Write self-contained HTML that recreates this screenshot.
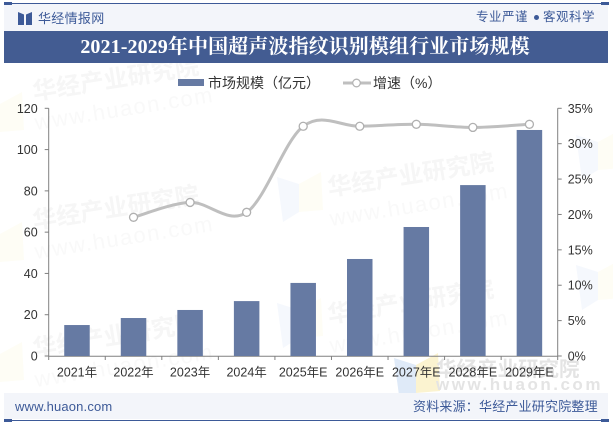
<!DOCTYPE html>
<html lang="zh">
<head>
<meta charset="utf-8">
<title>2021-2029年中国超声波指纹识别模组行业市场规模</title>
<style>
html,body{margin:0;padding:0;background:#fff;}
#page{position:relative;width:613px;height:424px;overflow:hidden;background:#fff;font-family:"Liberation Sans","Noto Sans CJK SC",sans-serif;}
#page>div{position:absolute;white-space:nowrap;}
#chart{position:absolute;left:0;top:0;}
</style>
</head>
<body>
<div id="page">
<svg id="chart" width="613" height="424" viewBox="0 0 613 424">
  <g id="watermarks"></g>
  <g id="axes"></g>
  <g id="bars"></g>
  <g id="line"></g>
  <g id="labels"></g>
</svg>

<div style="left:4px;top:4px;width:604px;height:27px;background:#f3f5fa;"></div>
<div style="left:4px;top:3px;width:604px;height:1px;background:#3d5a98;"></div>
<div style="left:4px;top:2px;width:8px;height:3px;background:#3d5a98;"></div>
<div style="left:601px;top:2px;width:8px;height:3px;background:#3d5a98;"></div>
<svg style="position:absolute;left:18px;top:12px;" width="14" height="14" viewBox="0 0 14 14"><polygon points="0,0 6,2.5 6,13 0,13" fill="#3d5a98"/><polygon points="14,0 8,2.5 8,13 14,13" fill="#3d5a98"/></svg>
<div style="left:38px;top:9px;font-size:13px;line-height:19px;letter-spacing:0.3px;color:#3d5a98;">华经情报网</div>
<div style="left:476px;top:8px;font-size:12.5px;line-height:19px;letter-spacing:0.5px;color:#3d5a98;">专业严谨</div>
<div style="left:534px;top:15px;width:5px;height:5px;border-radius:50%;background:#3d5a98;"></div>
<div style="left:543px;top:8px;font-size:12.5px;line-height:19px;letter-spacing:0.5px;color:#3d5a98;">客观科学</div>

<div style="left:4px;top:31px;width:604px;height:32px;background:#435c92;"></div>
<div style="left:4px;top:31px;width:604px;height:32px;line-height:32px;text-align:center;font-family:'Liberation Serif','Noto Serif CJK SC',serif;font-weight:bold;font-size:20px;letter-spacing:0.1px;color:#fff;text-indent:-2px;">2021-2029年中国超声波指纹识别模组行业市场规模</div>

<div style="left:178px;top:79px;width:26px;height:7px;background:#667aa3;"></div>
<div style="left:208px;top:73px;font-size:14px;line-height:20px;color:#333;">市场规模（亿元）</div>
<svg style="position:absolute;left:343px;top:76px;" width="28" height="14" viewBox="0 0 28 14"><line x1="0" y1="7" x2="28" y2="7" stroke="#bfbfbf" stroke-width="3"/><circle cx="13.5" cy="7" r="3.8" fill="#fff" stroke="#b5b5b5" stroke-width="1.3"/></svg>
<div style="left:373px;top:73px;font-size:14px;line-height:20px;color:#333;">增速（%）</div>

<div style="left:4px;top:393px;width:604px;height:26px;background:#f3f5fa;"></div>
<div style="left:4px;top:419.5px;width:604px;height:1px;background:#3d5a98;"></div>
<div style="left:4px;top:419px;width:8px;height:3px;background:#3d5a98;"></div>
<div style="left:601px;top:419px;width:8px;height:3px;background:#3d5a98;"></div>
<div style="left:15px;top:398px;font-size:13px;line-height:18px;letter-spacing:0.15px;color:#3d5a98;">www.huaon.com</div>
<div style="left:413px;top:398px;font-size:13px;line-height:18px;letter-spacing:0.2px;color:#3d5a98;">资料来源：华经产业研究院整理</div>
</div>

<script>
var categories = ['2021年','2022年','2023年','2024年','2025年E','2026年E','2027年E','2028年E','2029年E'];
var marketSize = [15, 18.4, 22.3, 26.6, 35.4, 47, 62.5, 82.8, 109.5];
var growthRate = [null, 19.6, 21.7, 20.3, 32.46, 32.46, 32.74, 32.3, 32.74];
var leftTicks = [0, 20, 40, 60, 80, 100, 120];
var rightTicks = [0, 5, 10, 15, 20, 25, 30, 35];

var NS = 'http://www.w3.org/2000/svg';
var plotLeft = 48.7, plotRight = 557.7, plotTop = 108.3, plotBottom = 356;
var leftMax = 120, rightMax = 35;
var step = (plotRight - plotLeft) / categories.length;

function make(tag, attrs, parent) {
  var el = document.createElementNS(NS, tag);
  for (var k in attrs) { el.setAttribute(k, attrs[k]); }
  parent.appendChild(el);
  return el;
}
function xBand(i) { return plotLeft + step * i; }
function xCenter(i) { return plotLeft + step * (i + 0.5); }
function yLeft(v) { return plotBottom - (v / leftMax) * (plotBottom - plotTop); }
function yRight(v) { return plotBottom - (v / rightMax) * (plotBottom - plotTop); }

var gAxes = document.getElementById('axes');
var gBars = document.getElementById('bars');
var gLine = document.getElementById('line');
var gLabels = document.getElementById('labels');
var gWater = document.getElementById('watermarks');

/* watermark logos */
function drawLogo(x, y, blue, yellow) {
  var b = make('polygon', {points: x+',' + (y+5) + ' ' + (x+22) + ',' + (y+12) + ' ' + (x+22) + ',' + (y+40) + ' ' + (x+6) + ',' + (y+50), fill: blue}, gWater);
  
  
  var o = make('polygon', {points: (x+22) + ',' + (y+12) + ' ' + (x+44) + ',' + y + ' ' + (x+46) + ',' + (y+38) + ' ' + (x+22) + ',' + (y+40), fill: yellow}, gWater);
  
  
}
function drawMark(x, y, color, size) {
  var t1 = make('text', {x: x, y: y, fill: color, 'font-size': size, 'font-weight': 'bold', transform: 'rotate(-9 ' + x + ' ' + y + ')', 'font-family': '"Liberation Sans","Noto Sans CJK SC",sans-serif'}, gWater);
  t1.textContent = '华经产业研究院';
  
  
  var t2 = make('text', {x: x + 2, y: y + 30, fill: '#f9f9f9', 'font-size': 22, 'letter-spacing': 1.5, transform: 'rotate(-9 ' + (x + 2) + ' ' + (y + 30) + ')', 'font-family': '"Liberation Sans",sans-serif'}, gWater);
  t2.textContent = 'www.huaon.com';
  
  
}
drawLogo(-22, 92, '#f6f9fd', '#fefdf5');
drawLogo(-22, 222, '#f6f9fd', '#fefdf5');
drawLogo(-22, 342, '#f6f9fd', '#fefdf5');
drawLogo(277, 172, '#f5f8fd', '#fefdf5');
drawLogo(277, 298, '#f5f8fd', '#fefdf5');
drawLogo(576, 130, '#f5f8fd', '#fefdf5');
drawLogo(576, 260, '#f5f8fd', '#fefdf5');
drawLogo(394, 353, '#dfeaf8', '#fbf3d0');
drawMark(34, 100, '#f6f6f6', 24);
drawMark(34, 229, '#f6f6f6', 24);
drawMark(34, 357, '#f6f6f6', 24);
drawMark(329, 196, '#f6f6f6', 24);
drawMark(329, 323, '#f6f6f6', 24);
var wm1 = make('text', {x: 436, y: 376, fill: '#e4e4e4', 'font-size': 20.5, 'font-weight': 'bold', 'font-family': '"Liberation Sans","Noto Sans CJK SC",sans-serif'}, gWater);
wm1.textContent = '华经产业研究院';


var wm2 = make('text', {x: 436, y: 390, fill: '#e4e4e4', 'font-size': 17, 'font-weight': 'bold', 'letter-spacing': 2.5, 'font-family': '"Liberation Sans",sans-serif'}, gWater);
wm2.textContent = 'www.huaon.com';



/* axes */
var axisColor = '#808080';
var ax = make('line', {x1: plotLeft, y1: plotBottom + 0.2, x2: plotRight, y2: plotBottom + 0.2, stroke: axisColor, 'stroke-width': 1}, gAxes);


var axl = make('line', {x1: plotLeft, y1: plotTop, x2: plotLeft, y2: plotBottom, stroke: axisColor, 'stroke-width': 1}, gAxes);


var axr = make('line', {x1: plotRight, y1: plotTop, x2: plotRight, y2: plotBottom, stroke: axisColor, 'stroke-width': 1}, gAxes);



leftTicks.forEach(function (v) {
  var y = yLeft(v);
  var tick = make('line', {x1: plotLeft - 4, y1: y, x2: plotLeft, y2: y, stroke: axisColor, 'stroke-width': 1}, gAxes);
  
  
  var t = make('text', {x: plotLeft - 11, y: y + 4.5, 'text-anchor': 'end', fill: '#333', 'font-size': 12.5, 'font-family': '"Liberation Sans",sans-serif'}, gLabels);
  t.textContent = String(v);
  
  
});
rightTicks.forEach(function (v) {
  var y = yRight(v);
  var tick = make('line', {x1: plotRight, y1: y, x2: plotRight + 4, y2: y, stroke: axisColor, 'stroke-width': 1}, gAxes);
  
  
  var t = make('text', {x: plotRight + 10, y: y + 4.5, fill: '#333', 'font-size': 12.5, 'font-family': '"Liberation Sans",sans-serif'}, gLabels);
  t.textContent = v + '%';
  
  
});
for (var i = 0; i <= categories.length; i++) {
  var tk = make('line', {x1: xBand(i), y1: plotBottom, x2: xBand(i), y2: plotBottom + 4, stroke: axisColor, 'stroke-width': 1}, gAxes);
  
  
}

/* bars and category labels */
var barWidth = 25.5;
categories.forEach(function (c, i) {
  var top = yLeft(marketSize[i]);
  var r = make('rect', {x: xCenter(i) - barWidth / 2, y: top, width: barWidth, height: plotBottom - top, fill: '#667aa3'}, gBars);
  
  
  var t = make('text', {x: xCenter(i), y: 376.5, 'text-anchor': 'middle', fill: '#333', 'font-size': 12.5, 'font-family': '"Liberation Sans","Noto Sans CJK SC",sans-serif'}, gLabels);
  t.textContent = c;
  
  
});

/* smooth growth line */
var pts = [];
growthRate.forEach(function (v, i) {
  if (v !== null) { pts.push([xCenter(i), yRight(v)]); }
});
var d = 'M' + pts[0][0] + ' ' + pts[0][1];
for (var j = 0; j < pts.length - 1; j++) {
  var p0 = pts[Math.max(j - 1, 0)], p1 = pts[j], p2 = pts[j + 1], p3 = pts[Math.min(j + 2, pts.length - 1)];
  var c1x = p1[0] + (p2[0] - p0[0]) / 6, c1y = p1[1] + (p2[1] - p0[1]) / 6;
  var c2x = p2[0] - (p3[0] - p1[0]) / 6, c2y = p2[1] - (p3[1] - p1[1]) / 6;
  d += ' C' + c1x + ' ' + c1y + ' ' + c2x + ' ' + c2y + ' ' + p2[0] + ' ' + p2[1];
}
var path = make('path', {d: d, fill: 'none', stroke: '#bfbfbf', 'stroke-width': 3, 'stroke-linecap': 'round'}, gLine);


pts.forEach(function (p) {
  var m = make('circle', {cx: p[0], cy: p[1], r: 4, fill: '#fff', stroke: '#b0b0b0', 'stroke-width': 1.3}, gLine);
  
  
});
</script>
</body>
</html>
